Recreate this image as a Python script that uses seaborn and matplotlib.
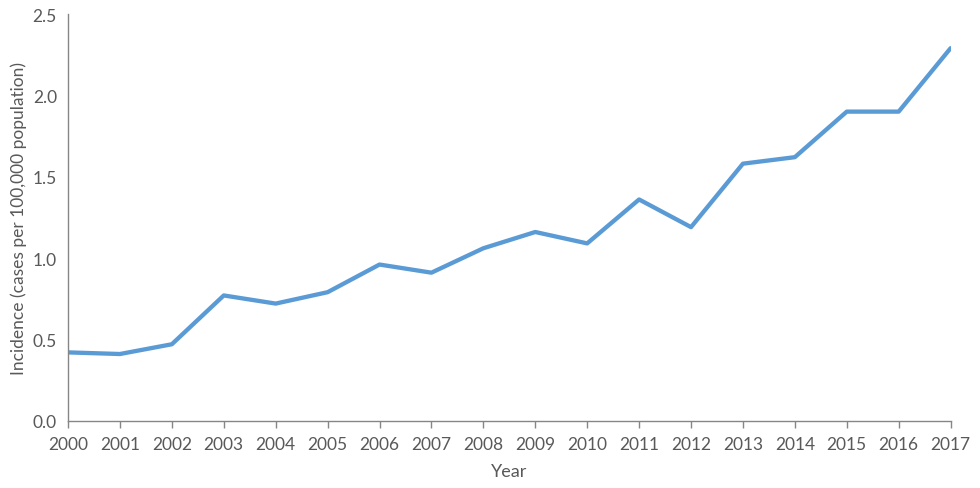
import pandas as pd
import numpy as np
import matplotlib.pyplot as plt
import seaborn as sns

# Incidence values
years = list(range(2000, 2018))
incidence = [0.42, 0.41, 0.47, 0.77, 0.72, 0.79, 0.96, 0.91, 1.06,
             1.16, 1.09, 1.36, 1.19, 1.58, 1.62, 1.90, 1.90, 2.29]

data = pd.DataFrame({'Year': years, 'Incidence': incidence})

sns.set_style('white')
plt.rcParams['font.family'] = ['Lato', 'DejaVu Sans']

fig = plt.figure(figsize=(9.8, 4.89), dpi=100)
ax = fig.add_axes([0.0694, 0.1376, 0.9006, 0.8317])

sns.lineplot(x='Year', y='Incidence', data=data, color='#5B9BD5',
             linewidth=3.1, ax=ax)

ax.set_xlim(2000, 2017)
ax.set_ylim(0, 2.5)
ax.set_xticks(years)
ax.set_xticklabels([str(y) for y in years])
ax.set_yticks(np.arange(0, 2.51, 0.5))
ax.set_yticklabels([f'{v:.1f}' for v in np.arange(0, 2.51, 0.5)])

text_color = '#595959'
axis_color = '#868686'
ax.tick_params(axis='x', colors=text_color, labelsize=12.5, length=5,
               width=1, color=axis_color, direction='out', pad=6, bottom=True)
ax.tick_params(axis='y', colors=text_color, labelsize=12.5, length=0, pad=8)

for side in ['top', 'right']:
    ax.spines[side].set_visible(False)
for side in ['left', 'bottom']:
    ax.spines[side].set_color(axis_color)
    ax.spines[side].set_linewidth(1)

ax.set_xlabel('Year', fontsize=13, color=text_color, labelpad=8)
ax.set_ylabel('Incidence (cases per 100,000 population)', fontsize=12.5,
              color=text_color, labelpad=4)

fig.savefig('out.png', dpi=100)
